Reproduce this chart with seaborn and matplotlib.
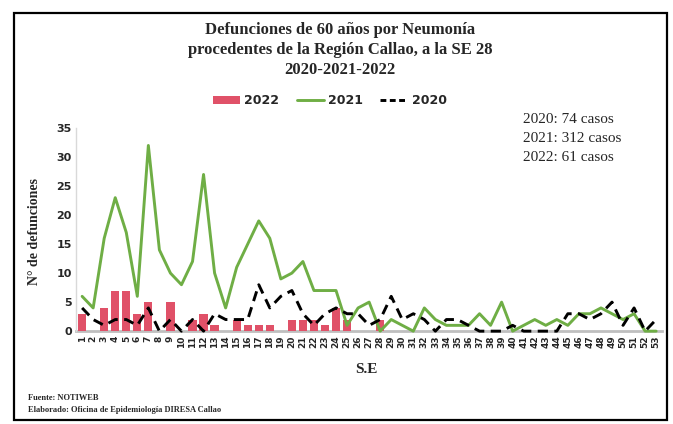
import numpy as np
import pandas as pd
import matplotlib
matplotlib.use("Agg")
import matplotlib.pyplot as plt
import seaborn as sns
from matplotlib.patches import Rectangle, Patch
from matplotlib.lines import Line2D

sns.set_style("white")

# Datos (semanas epidemiologicas)
weeks = [str(w) for w in range(1, 54)]

deaths_2022 = [3, 0, 4, 7, 7, 3, 5, 0, 5, 0, 2, 3, 1, 0, 2, 1, 1, 1, 0, 2,
               2, 2, 1, 4, 2, 0, 0, 2]

deaths_2021 = [6, 4, 16, 23, 17, 6, 32, 14, 10, 8, 12, 27, 10, 4, 11, 15, 19, 16, 9, 10,
               12, 7, 7, 7, 1, 4, 5, 0, 2, 1, 0, 4, 2, 1, 1, 1, 3, 1, 5, 0,
               1, 2, 1, 2, 1, 3, 3, 4, 3, 2, 3, 0, 0]

deaths_2020 = [4, 2, 1, 2, 2, 1, 4, 0, 2, 0, 2, 0, 3, 2, 2, 2, 8, 4, 6, 7,
               3, 1, 3, 4, 3, 3, 1, 2, 6, 2, 3, 2, 0, 2, 2, 1, 0, 0, 0, 1,
               0, 0, 0, 0, 3, 3, 2, 3, 5, 1, 4, 0, 2]

totals = ["2020: 74 casos", "2021: 312 casos", "2022: 61 casos"]

df22 = pd.DataFrame({"SE": weeks[:len(deaths_2022)], "n": deaths_2022})
pos = np.arange(len(weeks))

c22 = "#E05168"
c21 = "#6FAE45"

fig = plt.figure(figsize=(6.73, 4.24), dpi=100)
ax = fig.add_axes([0.113, 0.219, 0.871, 0.479])

sns.barplot(data=df22, x="SE", y="n", order=weeks, color=c22, width=0.75,
            saturation=1, linewidth=0, edgecolor="none", ax=ax)
sns.lineplot(x=pos, y=deaths_2021, color=c21, linewidth=2.1, ax=ax)
sns.lineplot(x=pos, y=deaths_2020, color="black", linewidth=2.1, ax=ax)
ax.lines[-1].set_dashes((3.5, 2.2))
for ln in ax.lines:
    ln.set_clip_on(False)

ax.set_xlim(-0.55, len(weeks) - 0.45)
ax.set_ylim(0, 35)
ax.set_yticks(range(0, 36, 5))
ax.set_xticks(pos)
ax.set_xticklabels(weeks, rotation=90, fontsize=6.5, fontweight="bold")
for t in ax.get_yticklabels():
    t.set_fontsize(8)
    t.set_fontweight("bold")
ax.tick_params(axis="both", length=0, pad=3)
ax.set_xlabel("")
ax.set_ylabel("")

sns.despine(ax=ax)
ax.spines["left"].set_color("#D9D9D9")
ax.spines["left"].set_linewidth(1)
ax.spines["bottom"].set_color("#BFBFBF")
ax.spines["bottom"].set_linewidth(2)
ax.spines["bottom"].set_zorder(0.5)

serif = "Liberation Serif"

fig.text(0.505, 0.93, "Defunciones de 60 años por Neumonía", ha="center", va="center",
         fontsize=12, fontweight="bold", family=serif)
fig.text(0.505, 0.882, "procedentes de la Región Callao, a la SE 28", ha="center",
         va="center", fontsize=12, fontweight="bold", family=serif)
fig.text(0.505, 0.834, "2020-2021-2022", ha="center", va="center",
         fontsize=12, fontweight="bold", family=serif)

handles = [Patch(facecolor=c22, edgecolor="none"),
           Line2D([], [], color=c21, linewidth=2.1),
           Line2D([], [], color="black", linewidth=2.1, dashes=(2, 1.2))]
leg = fig.legend(handles, ["2022", "2021", "2020"], loc="center",
                 bbox_to_anchor=(0.49, 0.762), ncol=3, frameon=False,
                 prop={"size": 9, "weight": "bold"}, handlelength=2.2,
                 handletextpad=0.3, columnspacing=1.4)

for i, s in enumerate(totals):
    fig.text(0.777, 0.717 - i * 0.044, s, ha="left", va="center",
             fontsize=11, family=serif)

fig.text(0.052, 0.455, "N° de defunciones", rotation=90, ha="center", va="center",
         fontsize=10, fontweight="bold", family=serif)
fig.text(0.545, 0.128, "S.E", ha="center", va="center",
         fontsize=11, fontweight="bold", family=serif)

fig.text(0.042, 0.062, "Fuente: NOTIWEB", fontsize=6, fontweight="bold",
         family=serif, va="center")
fig.text(0.042, 0.034, "Elaborado: Oficina de Epidemiología DIRESA Callao",
         fontsize=6, fontweight="bold", family=serif, va="center")

fig.patches.append(Rectangle((14 / 673, 4 / 424), 653 / 673, 407 / 424,
                             transform=fig.transFigure, fill=False,
                             edgecolor="black", linewidth=1.6))

fig.savefig("out.png", dpi=100)
